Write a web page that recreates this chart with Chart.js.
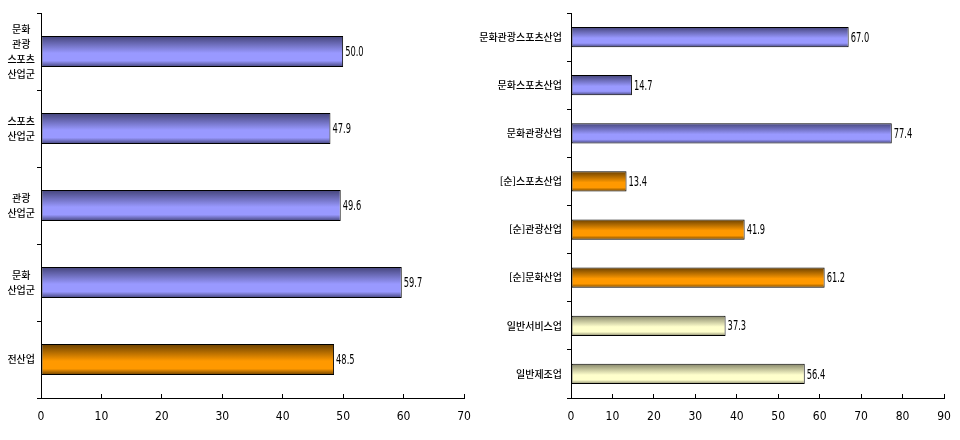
<!DOCTYPE html>
<html lang="ko">
<head>
<meta charset="utf-8">
<title>산업별 비교 차트</title>
<script src="https://cdn.jsdelivr.net/npm/chart.js@4.4.1/dist/chart.umd.min.js"></script>
<style>
    body { margin: 0; background: #fff; width: 960px; height: 440px; overflow: hidden; position: relative; }
    #leftChart { position: absolute; left: 0; top: 0; }
    #rightChart { position: absolute; left: 470px; top: 0; }
</style>
</head>
<body>
<canvas id="leftChart" width="480" height="440"></canvas>
<canvas id="rightChart" width="490" height="440"></canvas>
<script>
// 왼쪽 차트 데이터 (산업군)
const leftLabels = [['문화', '관광', '스포츠', '산업군'], ['스포츠', '산업군'], ['관광', '산업군'], ['문화', '산업군'], '전산업'];
const leftValues = [50.0, 47.9, 49.6, 59.7, 48.5];
const leftGroups = ['blue', 'blue', 'blue', 'blue', 'orange'];
const leftTicks = [0, 10, 20, 30, 40, 50, 60, 70];

// 오른쪽 차트 데이터 (세부 산업)
const rightLabels = ['문화관광스포츠산업', '문화스포츠산업', '문화관광산업', '[순]스포츠산업', '[순]관광산업', '[순]문화산업', '일반서비스업', '일반제조업'];
const rightValues = [67.0, 14.7, 77.4, 13.4, 41.9, 61.2, 37.3, 56.4];
const rightGroups = ['blue', 'blue', 'blue', 'orange', 'orange', 'orange', 'pale', 'pale'];
const rightTicks = [0, 10, 20, 30, 40, 50, 60, 70, 80, 90];

const palette = {
    blue: { light: '#9999ff', dark: '#44447a' },
    orange: { light: '#ff9900', dark: '#6a4000' },
    pale: { light: '#ffffcc', dark: '#86866a' }
};

const numFont = { family: '"DejaVu Sans Condensed", "Liberation Sans Narrow", sans-serif', size: 12, lineHeight: 2.5 };
const korFont = { family: '"Noto Sans CJK KR", sans-serif', size: 10, weight: '500', lineHeight: 1.5 };

// 막대 그라데이션 (위아래 어둡게)
function barGradient(groups, barPct) {
    return function(context) {
        if (context.dataIndex === undefined) return '#999999';
        const c = palette[groups[context.dataIndex]];
        const chart = context.chart;
        const y = chart.scales.y;
        if (!y || !chart.chartArea) return c.light;
        const center = y.getPixelForValue(context.dataIndex);
        const half = y.height / groups.length * barPct / 2;
        const g = chart.ctx.createLinearGradient(0, center - half, 0, center + half);
        g.addColorStop(0, c.dark);
        g.addColorStop(0.55, c.light);
        g.addColorStop(0.8, c.light);
        g.addColorStop(1, c.dark);
        return g;
    };
}

// 막대 끝에 값 표시 (좁은 글꼴 느낌으로 가로 압축)
const valueLabels = {
    id: 'valueLabels',
    afterDatasetsDraw(chart) {
        const ctx = chart.ctx;
        const meta = chart.getDatasetMeta(0);
        const data = chart.data.datasets[0].data;
        ctx.save();
        ctx.font = '14px "DejaVu Sans Condensed", sans-serif';
        ctx.fillStyle = '#000';
        ctx.textAlign = 'left';
        ctx.textBaseline = 'middle';
        meta.data.forEach((bar, i) => {
            ctx.save();
            ctx.translate(bar.x + 2, bar.y + 1);
            ctx.scale(0.66, 1);
            ctx.fillText(data[i].toFixed(1), 0, 0);
            ctx.restore();
        });
        ctx.restore();
    }
};

function makeChart(id, labels, values, groups, ticks, barPct, yWidth, yTicks) {
    return new Chart(document.getElementById(id), {
        type: 'bar',
        data: {
            labels: labels,
            datasets: [{
                data: values,
                backgroundColor: barGradient(groups, barPct),
                borderColor: '#000',
                borderWidth: 1,
                borderSkipped: false,
                barPercentage: barPct,
                categoryPercentage: 1.0
            }]
        },
        options: {
            indexAxis: 'y',
            responsive: false,
            animation: false,
            layout: { padding: { top: 13, right: 16, left: 0, bottom: 0 } },
            plugins: { legend: { display: false }, tooltip: { enabled: false } },
            scales: {
                x: {
                    min: ticks[0],
                    max: ticks[ticks.length - 1],
                    ticks: { stepSize: ticks[1] - ticks[0], color: '#000', font: numFont, padding: 8, maxRotation: 0 },
                    grid: { drawOnChartArea: false, color: '#000', tickLength: -4 },
                    border: { color: '#000' },
                    afterFit(s) { s.height = 42; }
                },
                y: {
                    ticks: Object.assign({ color: '#000', font: korFont, autoSkip: false }, yTicks),
                    grid: { drawOnChartArea: false, color: '#000', tickLength: 4, offset: true },
                    border: { color: '#000' },
                    afterFit(s) { s.width = yWidth; }
                }
            }
        },
        plugins: [valueLabels]
    });
}

makeChart('leftChart', leftLabels, leftValues, leftGroups, leftTicks, 0.4, 41, { crossAlign: 'center', padding: 2 });
makeChart('rightChart', rightLabels, rightValues, rightGroups, rightTicks, 0.42, 101, { crossAlign: 'near', padding: 5 });
</script>
</body>
</html>
